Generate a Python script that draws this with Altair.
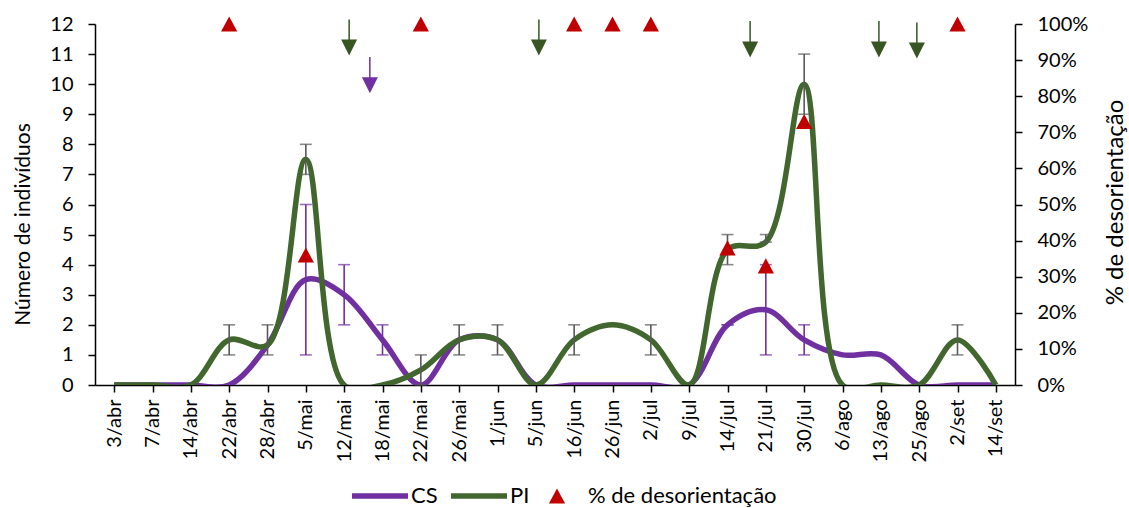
import altair as alt
import pandas as pd

# Sampling dates (category axis)
datas = ["3/abr", "7/abr", "14/abr", "22/abr", "28/abr", "5/mai", "12/mai", "18/mai",
         "22/mai", "26/mai", "1/jun", "5/jun", "16/jun", "26/jun", "2/jul", "9/jul",
         "14/jul", "21/jul", "30/jul", "6/ago", "13/ago", "25/ago", "2/set", "14/set"]

# Mean number of individuals per date
cs = [0, 0, 0, 0, 1.33, 3.5, 3, 1.5, 0, 1.5, 1.5, 0, 0, 0, 0, 0, 2, 2.5, 1.5, 1, 1, 0, 0, 0]
pi = [0, 0, 0, 1.5, 1.33, 7.5, 0, 0, 0.5, 1.5, 1.5, 0, 1.5, 2, 1.5, 0, 4.5, 4.75, 10, 0, 0, 0, 1.5, 0]

# Error bars (min / max) – CS
cs_err_idx = [5, 6, 7, 16, 17, 18]
cs_err_lo = [1, 2, 1, 2, 1, 1]
cs_err_hi = [6, 4, 2, 2, 4, 2]

# Error bars (min / max) – PI
pi_err_idx = [3, 4, 5, 8, 9, 10, 12, 14, 16, 17, 18, 22]
pi_err_lo = [1, 1, 7, 0, 1, 1, 1, 1, 4, 4.75, 9, 1]
pi_err_hi = [2, 2, 8, 1, 2, 2, 2, 2, 5, 5, 11, 2]

# Percentage of disorientation (right axis)
deso_idx = [3, 5, 8, 12, 13, 14, 16, 17, 18, 22]
deso_pct = [1.0, 0.36, 1.0, 1.0, 1.0, 1.0, 0.38, 0.33, 0.73, 1.0]

# Event arrows: position on the date index, top of stem, centre of head
seta_pi_x = [6.13, 11.08, 16.59, 19.95, 20.94]
seta_pi_topo = [12.15, 12.15, 12.1, 12.1, 12.05]
seta_pi_ponta = [11.22, 11.22, 11.15, 11.15, 11.12]
seta_cs_x = [6.67]
seta_cs_topo = [10.9]
seta_cs_ponta = [9.96]

ROXO = "#7030A0"
VERDE = "#41672F"
VERDE_SETA = "#375623"
CINZA = "#595959"
VERMELHO = "#C00000"
SERIES = ["CS", "PI", "% de desorientação"]

# Symbol paths (unit = half the symbol side); the line sample is wider than its slot
LINHA = "M-2,-0.2L2,-0.2L2,0.2L-2,0.2Z"
TRIANGULO = "M0,-0.54L0.58,0.54L-0.58,0.54Z"
SETA = "M-1,-1L1,-1L0,1Z"
TAM_SIMBOLO = 784

df_cs = pd.DataFrame({"i": range(len(datas)), "v": cs})
df_pi = pd.DataFrame({"i": range(len(datas)), "v": pi})
df_cs_err = pd.DataFrame({"i": cs_err_idx, "lo": cs_err_lo, "hi": cs_err_hi})
df_pi_err = pd.DataFrame({"i": pi_err_idx, "lo": pi_err_lo, "hi": pi_err_hi})
df_deso = pd.DataFrame({"i": deso_idx, "p": deso_pct, "serie": "% de desorientação"})
df_seta_pi = pd.DataFrame({"i": seta_pi_x, "topo": seta_pi_topo, "ponta": seta_pi_ponta})
df_seta_cs = pd.DataFrame({"i": seta_cs_x, "topo": seta_cs_topo, "ponta": seta_cs_ponta})

label_array = "[" + ",".join("'" + d + "'" for d in datas) + "]"
x_scale = alt.Scale(domain=[-0.5, len(datas) - 0.5], nice=False, zero=False)
x_axis = alt.Axis(values=list(range(len(datas))), labelExpr=label_array + "[datum.value]",
                  labelAngle=270, labelAlign="right", labelBaseline="middle",
                  labelPadding=7, title=None, labelOverlap=False)
y_scale = alt.Scale(domain=[0, 12], nice=False, zero=True)
y_axis = alt.Axis(values=list(range(13)), labelPadding=15,
                  titleFontSize=21, titleX=-72, titleY=200,
                  titleAlign="center", titleBaseline="middle")

X = alt.X("i:Q", scale=x_scale, axis=x_axis, title=None)


def Y(campo):
    return alt.Y(campo, scale=y_scale, axis=y_axis, title="Número de indivíduos")


def linha(df, cor):
    return alt.Chart(df).mark_line(interpolate="catmull-rom", strokeWidth=5.5, color=cor,
                                   clip=True).encode(x=X, y=Y("v:Q"))


def barras(df, cor):
    haste = alt.Chart(df).mark_rule(color=cor, strokeWidth=1.6).encode(
        x=X, y=Y("lo:Q"), y2="hi:Q")
    cap_lo = alt.Chart(df).mark_tick(color=cor, orient="horizontal", size=12,
                                     thickness=1.6).encode(x=X, y=Y("lo:Q"))
    cap_hi = alt.Chart(df).mark_tick(color=cor, orient="horizontal", size=12,
                                     thickness=1.6).encode(x=X, y=Y("hi:Q"))
    return haste + cap_lo + cap_hi


def setas(df, cor):
    haste = alt.Chart(df).mark_rule(color=cor, strokeWidth=1.5).encode(
        x=X, y=Y("topo:Q"), y2="ponta:Q")
    cabeca = alt.Chart(df).mark_point(shape=SETA, filled=True, color=cor, opacity=1,
                                      size=256, strokeWidth=0).encode(
        x=X, y=Y("ponta:Q"))
    return haste + cabeca


esquerda = alt.layer(
    linha(df_cs, ROXO),
    linha(df_pi, VERDE),
    barras(df_pi_err, CINZA),
    barras(df_cs_err, ROXO),
    setas(df_seta_pi, VERDE_SETA),
    setas(df_seta_cs, ROXO),
)

# the "PI" entry gets some trailing room before the triangle entry
legenda = alt.Legend(title=None, orient="none", legendX=271, legendY=458,
                     direction="horizontal", symbolSize=TAM_SIMBOLO, symbolStrokeWidth=0,
                     labelFont="Lato", labelFontSize=22, labelColor="black",
                     labelExpr="datum.label == 'PI' ? 'PI\u00a0\u00a0\u00a0' : datum.label",
                     labelLimit=0, labelOffset=17, columnPadding=13, padding=0)

direita = alt.Chart(df_deso).mark_point(filled=True, opacity=1, size=TAM_SIMBOLO,
                                        strokeWidth=0).encode(
    x=X,
    y=alt.Y("p:Q", scale=alt.Scale(domain=[0, 1], nice=False),
            axis=alt.Axis(orient="right", format=".0%",
                          values=[k / 10 for k in range(11)],
                          labelPadding=15, titleFontSize=24,
                          titleAngle=270, titleX=100, titleY=178,
                          titleAlign="center", titleBaseline="middle"),
            title="% de desorientação"),
    color=alt.Color("serie:N", scale=alt.Scale(domain=SERIES,
                                               range=[ROXO, VERDE, VERMELHO]),
                    legend=legenda),
    shape=alt.Shape("serie:N", scale=alt.Scale(domain=SERIES,
                                               range=[LINHA, LINHA, TRIANGULO]),
                    legend=legenda),
)

chart = alt.layer(esquerda, direita).resolve_scale(y="independent").properties(
    width=920, height=361,
    autosize=alt.AutoSizeParams(type="none"),
    padding={"left": 95, "top": 24, "right": 114, "bottom": 123},
).configure_axis(
    labelFont="Lato", labelFontSize=20, labelColor="black",
    titleFont="Lato", titleFontWeight="normal", titleColor="black",
    domainColor="black", domainWidth=1.5, tickColor="black", tickWidth=1.5,
    tickSize=7, grid=False,
).configure_view(stroke=None)

chart.save("out.html", embed_options={"renderer": "svg", "actions": False})
